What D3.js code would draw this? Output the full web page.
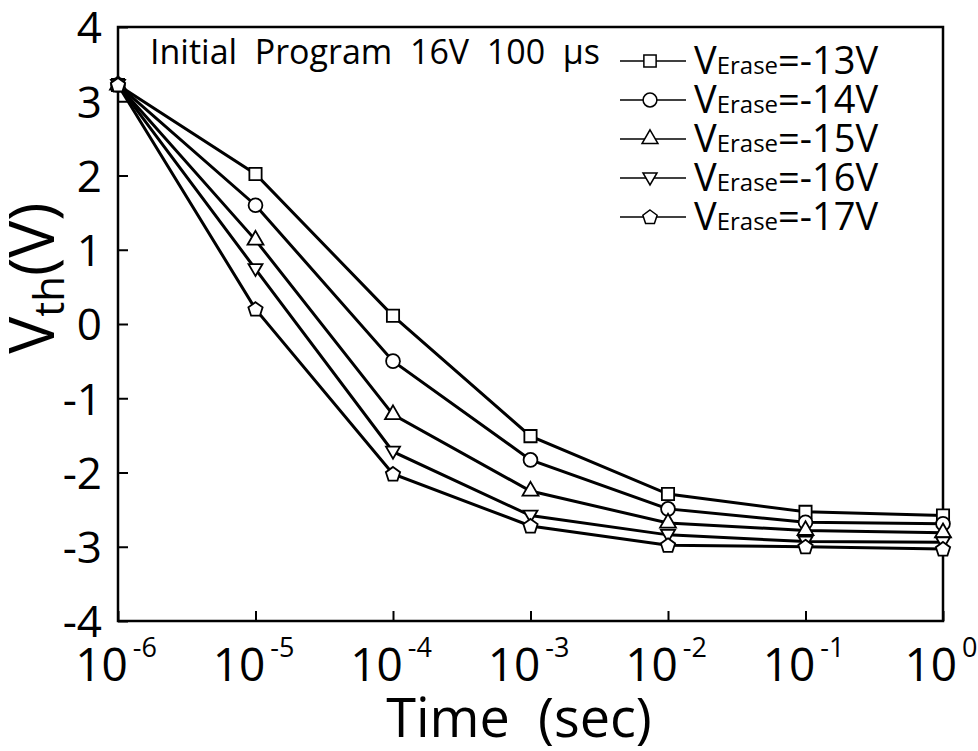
<!DOCTYPE html>
<html>
<head>
<meta charset="utf-8">
<script src="https://cdn.jsdelivr.net/npm/d3@7"></script>
<style>
  body { margin: 0; background: #fff; }
  text { font-family: "Open Sans", "Noto Sans", sans-serif; fill: #000; white-space: pre; }
</style>
</head>
<body>
<div id="chart"></div>
<script>
// data
var times = [1e-6, 1e-5, 1e-4, 1e-3, 1e-2, 1e-1, 1];
var seriesNames = ["-13V", "-14V", "-15V", "-16V", "-17V"];
var vErase13 = [3.22, 2.02, 0.11, -1.51, -2.29, -2.53, -2.58];
var vErase14 = [3.22, 1.60, -0.50, -1.83, -2.49, -2.67, -2.69];
var vErase15 = [3.22, 1.13, -1.22, -2.25, -2.68, -2.78, -2.81];
var vErase16 = [3.22, 0.74, -1.72, -2.58, -2.84, -2.93, -2.94];
var vErase17 = [3.22, 0.20, -2.02, -2.72, -2.98, -3.00, -3.03];
var yTicks = [-4, -3, -2, -1, 0, 1, 2, 3, 4];
var xTickExp = [-6, -5, -4, -3, -2, -1, 0];

var allValues = [vErase13, vErase14, vErase15, vErase16, vErase17];
var shapes = [d3.symbolSquare, d3.symbolCircle, d3.symbolTriangle, "down", "pentagon"];

var w = 978, h = 751;
var plotL = 118, plotR = 943, plotT = 27, plotB = 621;

var svg = d3.select("#chart").append("svg")
    .attr("width", w)
    .attr("height", h);

var x = d3.scaleLog().domain([1e-6, 1]).range([plotL, plotR]);
var y = d3.scaleLinear().domain([-4, 4]).range([plotB, plotT]);

// marker path for each series
function markerPath(i) {
  var s = shapes[i];
  if (s === "down") {
    return "M-7,-5L7,-5L0,7Z";
  }
  if (s === "pentagon") {
    var pts = d3.range(5).map(function (k) {
      var a = -Math.PI / 2 + k * 2 * Math.PI / 5;
      return [7.5 * Math.cos(a), 7.5 * Math.sin(a) + 0.5];
    });
    return "M" + pts.join("L") + "Z";
  }
  var size = s === d3.symbolTriangle ? 110 : 150;
  return d3.symbol().type(s).size(size)();
}

// axes, ticks inward
var yAxis = d3.axisLeft(y).tickValues(yTicks).tickSize(-10).tickFormat(function (d) { return d; });
var gy = svg.append("g").attr("transform", "translate(" + plotL + ",0)").call(yAxis);
gy.select(".domain").remove();
gy.selectAll(".tick line").attr("stroke", "#000").attr("stroke-width", 2);
gy.selectAll(".tick text")
    .attr("x", -16)
    .attr("dy", "0.36em")
    .attr("fill", "#000")
    .style("font-size", "44px");

var xAxis = d3.axisBottom(x).tickValues(xTickExp.map(function (e) { return Math.pow(10, e); }))
    .tickSize(-10).tickFormat("");
var gx = svg.append("g").attr("transform", "translate(0," + plotB + ")").call(xAxis);
gx.select(".domain").remove();
gx.selectAll(".tick line").attr("stroke", "#000").attr("stroke-width", 2);

// power-of-ten labels
var xl = svg.append("g").selectAll("text")
    .data(xTickExp)
    .enter()
    .append("text")
    .attr("x", function (d) { return x(Math.pow(10, d)) - 2; })
    .attr("y", 681)
    .attr("text-anchor", "middle")
    .style("font-size", "46px");
xl.append("tspan").text("10");
xl.append("tspan").attr("dy", -24).attr("dx", 5).style("font-size", "27px")
    .text(function (d) { return d; });

// frame
svg.append("rect")
    .attr("x", plotL).attr("y", plotT)
    .attr("width", plotR - plotL).attr("height", plotB - plotT)
    .attr("fill", "none").attr("stroke", "#000").attr("stroke-width", 2.5);

// lines
var line = d3.line()
    .x(function (d, i) { return x(times[i]); })
    .y(function (d) { return y(d); });

svg.selectAll("path.series")
    .data(allValues)
    .enter()
    .append("path")
    .attr("class", "series")
    .attr("d", line)
    .attr("fill", "none")
    .attr("stroke", "#000")
    .attr("stroke-width", 3);

// markers
allValues.forEach(function (vals, si) {
  svg.append("g").selectAll("path")
      .data(vals)
      .enter()
      .append("path")
      .attr("transform", function (d, i) { return "translate(" + x(times[i]) + "," + y(d) + ")"; })
      .attr("d", markerPath(si))
      .attr("fill", "#fff")
      .attr("stroke", "#000")
      .attr("stroke-width", 1.8);
});

// annotation
svg.append("text")
    .attr("x", 150).attr("y", 64)
    .style("font-size", "34px")
    .text("Initial  Program  16V  100  \u03bcs");

// legend
var leg = svg.append("g").selectAll("g")
    .data(seriesNames)
    .enter()
    .append("g")
    .attr("transform", function (d, i) { return "translate(0," + (61 + i * 39) + ")"; });

leg.append("line")
    .attr("x1", 620).attr("x2", 686)
    .attr("stroke", "#000").attr("stroke-width", 1.5);
leg.append("path")
    .attr("transform", "translate(650,0)")
    .attr("d", function (d, i) { return markerPath(i); })
    .attr("fill", "#fff")
    .attr("stroke", "#000")
    .attr("stroke-width", 1.5);
var lt = leg.append("text")
    .attr("x", 694).attr("y", 13)
    .style("font-size", "38px");
lt.append("tspan").text("V");
lt.append("tspan").style("font-size", "24px").text("Erase");
lt.append("tspan").text(function (d) { return "=" + d; });

// axis titles
svg.append("text")
    .attr("x", 519).attr("y", 737)
    .attr("text-anchor", "middle")
    .style("font-size", "54px")
    .text("Time  (sec)");

var yt = svg.append("text")
    .attr("transform", "translate(54,278) rotate(-90)")
    .attr("text-anchor", "middle")
    .style("font-size", "62px");
yt.append("tspan").text("V");
yt.append("tspan").attr("dy", 10).style("font-size", "42px").text("th");
yt.append("tspan").attr("dy", -10).text("(V)");
</script>
</body>
</html>
